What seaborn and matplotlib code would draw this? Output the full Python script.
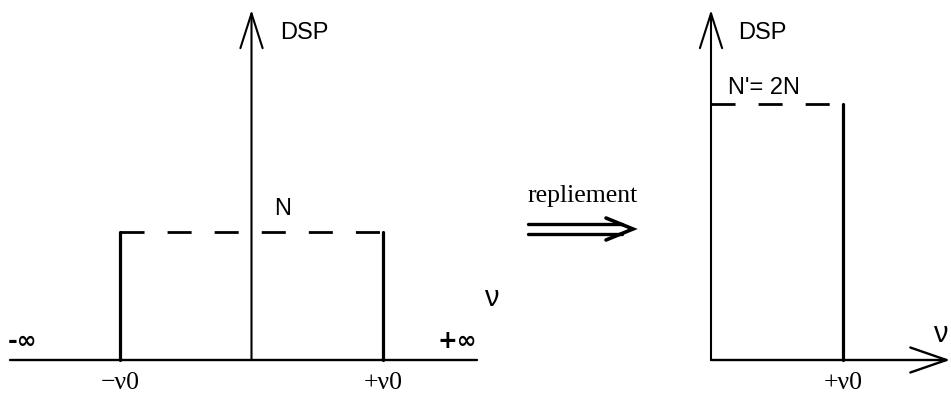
import matplotlib
matplotlib.use("Agg")
import matplotlib.pyplot as plt
import pandas as pd
import seaborn as sns
from matplotlib.lines import Line2D

# Spectral quantities (normalised units)
nu0 = 1.0                      # band limit
N = 1.0                        # bilateral noise density
band = [-nu0, nu0]             # bilateral band edges
folded_band = [0.0, nu0]       # unilateral band after folding
dsp_bilateral = N
dsp_folded = 2 * N
left_ticks = ["\u2212\u03bd0", "+\u03bd0"]
right_ticks = ["+\u03bd0"]
level_left = "N"
level_right = "N'= 2N"
axis_name = "DSP"
freq_name = "\u03bd"
fold_word = "repliement"

sns.set_theme(style="white")
plt.rcParams["lines.scale_dashes"] = False
plt.rcParams["text.color"] = "black"
SANS = "Liberation Sans"
SERIF = "Liberation Serif"

W, H = 951, 400
fig = plt.figure(figsize=(W / 100, H / 100), dpi=100)
fig.patch.set_facecolor("white")

# vertical scale: baseline at 360 px, 128 px per unit of N
Y0, SY = 360, 128
ylim = ((Y0 - H) / SY, Y0 / SY)

axL = fig.add_axes([0, 0, 480 / W, 1])
axL.set_xlim((0 - 251.5) / 131.5, (480 - 251.5) / 131.5)
axL.set_ylim(*ylim)
axR = fig.add_axes([480 / W, 0, 471 / W, 1])
axR.set_xlim((480 - 711) / 132, (951 - 711) / 132)
axR.set_ylim(*ylim)
for ax in (axL, axR):
    ax.set_axis_off()

BLACK = "black"
DASH = (0, (17.3, 16.6))
PT = 0.72  # points per pixel


def fx(x):
    return x / W


def fy(y):
    return 1 - y / H


# ---- left panel: bilateral spectrum ----
axL.axhline(0, xmin=10 / 480, xmax=477 / 480, color=BLACK, lw=1.7)
axL.annotate("", xy=(0, 0.975), xycoords=("data", "axes fraction"),
             xytext=(0, 0), textcoords="data",
             arrowprops=dict(arrowstyle="->,head_length=1.25,head_width=0.4",
                             lw=1.5, color=BLACK, shrinkA=0, shrinkB=0,
                             mutation_scale=20))

edges = pd.DataFrame({
    "nu": [band[0], band[0], band[1], band[1]],
    "dsp": [0, dsp_bilateral, 0, dsp_bilateral],
    "edge": ["lo", "lo", "hi", "hi"],
})
sns.lineplot(data=edges, x="nu", y="dsp", units="edge", estimator=None,
             sort=False, color=BLACK, lw=2.3, ax=axL, legend=False)
top = pd.DataFrame({"nu": band, "dsp": [dsp_bilateral] * 2})
sns.lineplot(data=top, x="nu", y="dsp", color=BLACK, lw=2.0, linestyle=DASH,
             ax=axL, legend=False)

for nu, lab in zip(band, left_ticks):
    axL.annotate(lab, xy=(nu, 0), xytext=(0, -23 * PT), textcoords="offset points",
                 ha="center", va="center", fontsize=18.5, family=SERIF, color=BLACK)
axL.annotate(level_left, xy=(0, dsp_bilateral), xytext=(31 * PT, 23 * PT),
             textcoords="offset points", ha="center", va="center",
             fontsize=17, family=SANS, color=BLACK)

fig.text(fx(280), fy(33), axis_name, ha="left", va="center", fontsize=17, family=SANS)
fig.text(fx(8), fy(341), "-\u221e", ha="left", va="center", fontsize=17,
         family="DejaVu Sans", fontweight="bold")
fig.text(fx(477), fy(341), "+\u221e", ha="right", va="center", fontsize=17,
         family="DejaVu Sans", fontweight="bold")
fig.text(fx(491), fy(298), freq_name, ha="center", va="center", fontsize=21,
         family=SANS)

# ---- folding arrow ----
fig.text(fx(527), fy(202), fold_word, ha="left", va="baseline", fontsize=18.5, family=SERIF)
for y in (224, 234):
    fig.add_artist(Line2D([fx(528), fx(622)], [fy(y), fy(y)], color=BLACK, lw=2.4))
fig.add_artist(Line2D([fx(606), fx(633), fx(606)], [fy(218), fy(229), fy(240)],
                      color=BLACK, lw=2.6, solid_joinstyle="miter"))

# ---- right panel: folded unilateral spectrum ----
axR.annotate("", xy=(0.998, 0), xycoords=("axes fraction", "data"),
             xytext=(0, 0), textcoords="data",
             arrowprops=dict(arrowstyle="->,head_length=1.3,head_width=0.45",
                             lw=1.7, color=BLACK, shrinkA=0, shrinkB=0,
                             mutation_scale=20))
axR.annotate("", xy=(0, 0.975), xycoords=("data", "axes fraction"),
             xytext=(0, 0), textcoords="data",
             arrowprops=dict(arrowstyle="->,head_length=1.25,head_width=0.4",
                             lw=1.5, color=BLACK, shrinkA=0, shrinkB=0,
                             mutation_scale=20))

redge = pd.DataFrame({"nu": [folded_band[1]] * 2, "dsp": [0, dsp_folded]})
sns.lineplot(data=redge, x="nu", y="dsp", sort=False, estimator=None,
             color=BLACK, lw=2.3, ax=axR, legend=False)
rtop = pd.DataFrame({"nu": folded_band, "dsp": [dsp_folded] * 2})
sns.lineplot(data=rtop, x="nu", y="dsp", color=BLACK, lw=2.0, linestyle=DASH,
             ax=axR, legend=False)

axR.annotate(right_ticks[0], xy=(folded_band[1], 0), xytext=(0, -23 * PT),
             textcoords="offset points", ha="center", va="center",
             fontsize=18.5, family=SERIF, color=BLACK)
fig.text(fx(728), fy(88), level_right, ha="left", va="center", fontsize=17, family=SANS)
fig.text(fx(738), fy(33), axis_name, ha="left", va="center", fontsize=17, family=SANS)
fig.text(fx(940), fy(334), freq_name, ha="center", va="center", fontsize=21,
         family=SANS)

fig.savefig("out.png", dpi=100, facecolor="white")
